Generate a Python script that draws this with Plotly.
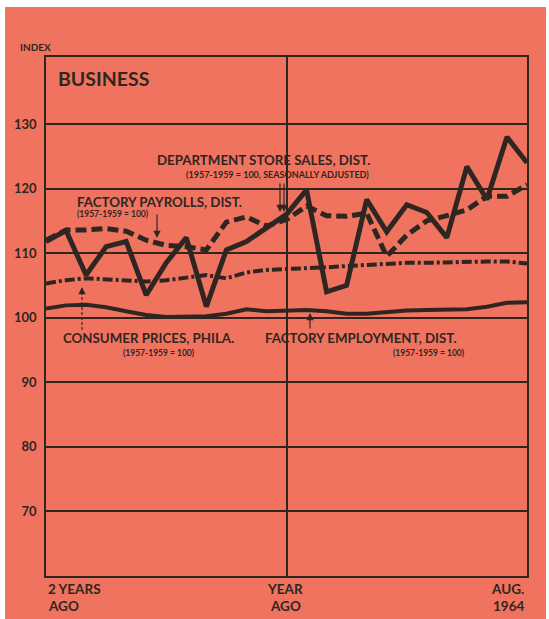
import plotly.graph_objects as go

# ---- data (monthly, Aug 1962 .. Aug 1964) ----
months = list(range(25))
dept_store_sales = [111.8, 113.5, 106.6, 111.0, 111.8, 103.5, 108.5, 112.4, 101.7, 110.5,
                    111.8, 114.0, 116.0, 119.8, 104.0, 105.0, 118.3, 113.3, 117.5, 116.3,
                    112.4, 123.4, 118.3, 128.0, 124.0]
factory_payrolls = [112.0, 113.6, 113.6, 113.8, 113.4, 112.0, 111.2, 111.0, 110.5, 114.8,
                    115.6, 114.2, 115.2, 117.3, 115.8, 115.7, 116.2, 109.5, 112.8, 115.0,
                    115.8, 116.7, 118.8, 118.8, 120.6]
consumer_prices = [105.3, 105.8, 106.1, 105.9, 105.7, 105.6, 105.8, 106.2, 106.6, 106.1,
                   107.0, 107.4, 107.5, 107.6, 107.8, 108.0, 108.2, 108.4, 108.5, 108.5,
                   108.6, 108.7, 108.7, 108.7, 108.4]
factory_employment = [101.4, 101.9, 102.0, 101.6, 101.0, 100.4, 100.1, 100.1, 100.2, 100.6,
                      101.3, 101.0, 101.1, 101.2, 101.0, 100.6, 100.6, 100.9, 101.1, 101.2,
                      101.2, 101.3, 101.7, 102.3, 102.4]
y_ticks = [70, 80, 90, 100, 110, 120, 130]

BG = "#F0735F"
INK = "#2f2622"
FONT = "Lato"

W, H = 549, 619
L, R, T, B = 46, 22, 57, 43
PW, PH = W - L - R, H - T - B


def px(xp):
    return (xp - L) / PW


def py(yp):
    return (H - B - yp) / PH


fig = go.Figure()
fig.add_trace(go.Scatter(x=months, y=factory_employment, mode="lines",
                         line=dict(color=INK, width=4), hoverinfo="skip"))
fig.add_trace(go.Scatter(x=months, y=consumer_prices, mode="lines",
                         line=dict(color=INK, width=4, dash="10px,3px,3px,3px"), hoverinfo="skip"))
fig.add_trace(go.Scatter(x=months, y=factory_payrolls, mode="lines",
                         line=dict(color=INK, width=5, dash="11px,5px"), hoverinfo="skip"))
fig.add_trace(go.Scatter(x=months, y=dept_store_sales, mode="lines",
                         line=dict(color=INK, width=5), hoverinfo="skip"))

annotations = []


def text(t, x, y, size, xanchor="left", weight=700):
    annotations.append(dict(text=t, x=px(x), y=py(y), xref="paper", yref="paper",
                            xanchor=xanchor, yanchor="middle", showarrow=False,
                            font=dict(family=FONT, size=size, color=INK, weight=weight)))


text("INDEX", 18, 47, 10)
text("BUSINESS", 56, 78, 19.5)
text("DEPARTMENT STORE SALES, DIST.", 372, 160, 13.3, "right")
text("(1957-1959 = 100, SEASONALLY ADJUSTED)", 371, 174, 9, "right")
text("FACTORY PAYROLLS, DIST.", 75, 202, 13.3)
text("(1957-1959 = 100)", 75, 214, 8.5)
text("CONSUMER PRICES, PHILA.", 61, 338, 13.3)
text("(1957-1959 = 100)", 121, 353, 8.5)
text("FACTORY EMPLOYMENT, DIST.", 263, 338, 13.3)
text("(1957-1959 = 100)", 467, 353, 8.5, "right")
text("2 YEARS", 46, 589, 13.5)
text("AGO", 46, 606, 13.5)
text("YEAR", 285, 589, 13.5, "center")
text("AGO", 285, 606, 13.5, "center")
text("AUG.", 526, 589, 13.5, "right")
text("1964", 526, 606, 13.5, "right")


def arrow(x, y, ay):
    annotations.append(dict(text="", x=px(x), y=py(y), xref="paper", yref="paper",
                            ax=0, ay=ay, showarrow=True, arrowhead=2, arrowsize=1.2,
                            arrowwidth=1.2, arrowcolor=INK))


arrow(157, 238, -25)
arrow(280, 212, -30)
arrow(284, 212, -30)
arrow(82, 287, 8)
arrow(310, 313, 17)


def white(x0, x1, y0, y1):
    return dict(type="rect", xref="paper", yref="paper", x0=px(x0), x1=px(x1),
                y0=py(y1), y1=py(y0), fillcolor="white", line=dict(width=0), layer="above")


shapes = [
    white(-2, 5, -2, 621),
    white(-2, 551, -2, 7),
    white(546, 551, -2, 621),
    dict(type="line", xref="paper", yref="paper", x0=px(82), x1=px(82), y0=py(330), y1=py(294),
         line=dict(color=INK, width=1.2, dash="3px,2px")),
]

fig.update_layout(
    width=W, height=H,
    margin=dict(l=L, r=R, t=T, b=B),
    paper_bgcolor=BG, plot_bgcolor=BG,
    showlegend=False,
    annotations=annotations, shapes=shapes,
    xaxis=dict(range=[0, 24], tickvals=[12], showticklabels=False, ticks="",
               showgrid=True, gridcolor=INK, gridwidth=1.6, zeroline=False,
               showline=True, linecolor=INK, linewidth=1.6, mirror=True),
    yaxis=dict(range=[59.95, 140.4], tickvals=y_ticks, ticks="outside", ticklen=5,
               tickcolor="rgba(0,0,0,0)", showgrid=True, gridcolor=INK, gridwidth=1.5,
               zeroline=False, showline=True, linecolor=INK, linewidth=1.6, mirror=True,
               tickfont=dict(family=FONT, size=13, color=INK, weight=700)),
)

fig.write_html("out.html", config={"displayModeBar": False},
               post_script="document.body.style.margin='0';document.body.style.overflow='hidden';")
